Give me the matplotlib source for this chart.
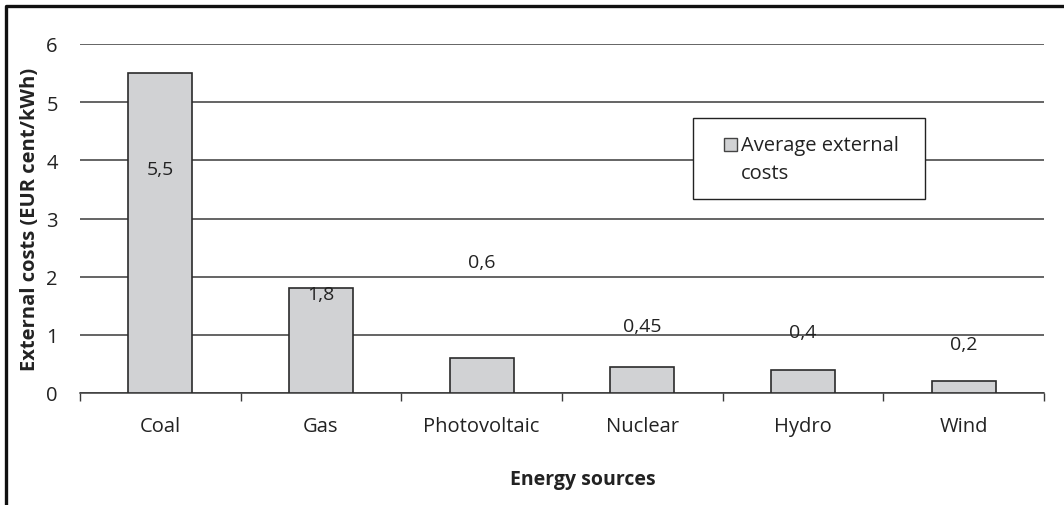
import numpy as np
import matplotlib
matplotlib.use("Agg")
import matplotlib.pyplot as plt
from matplotlib.lines import Line2D
from matplotlib.patches import Rectangle

plt.rcParams["font.family"] = ["Open Sans", "DejaVu Sans"]

sources = ["Coal", "Gas", "Photovoltaic", "Nuclear", "Hydro", "Wind"]
external_costs = [5.5, 1.8, 0.6, 0.45, 0.4, 0.2]
value_labels = ["5,5", "1,8", "0,6", "0,45", "0,4", "0,2"]
series_name = "Average external\ncosts"

# where the data labels sit (the original chart has them floating oddly)
label_heights = [3.85, 1.70, 2.25, 1.15, 1.05, 0.84]

W, H = 1064, 506
bar_color = "#d1d2d4"
ink = "#222222"


def px(x, y):
    # pixel position (from top left) -> figure fraction
    return x / W, 1 - y / H


fig = plt.figure(figsize=(W / 100, H / 100), dpi=100)
ax = fig.add_axes([80 / W, 1 - 394 / H, 964 / W, 349 / H])

x = np.arange(len(sources))
ax.bar(x, external_costs, width=0.4, color=bar_color, edgecolor="#2b2b2b",
       linewidth=1.2, zorder=3)

for xi, txt, ly in zip(x, value_labels, label_heights):
    ax.text(xi, ly, txt, ha="center", va="center", fontsize=14,
            color=ink, zorder=4)

ax.set_xlim(-0.5, len(sources) - 0.5)
ax.set_ylim(0, 6)
ax.set_yticks(range(0, 7))
ax.yaxis.grid(True, color="#3a3a3a", linewidth=1.1)
ax.set_axisbelow(True)

ax.set_xticks(np.arange(-0.5, len(sources), 1))
ax.set_xticklabels([])
ax.set_xticks(x, minor=True)
ax.set_xticklabels(sources, minor=True)
ax.tick_params(axis="x", which="major", length=6, width=1, color="#3a3a3a")
ax.tick_params(axis="x", which="minor", length=0, pad=16.5, labelsize=14.5,
               labelcolor=ink)
ax.tick_params(axis="y", length=0, pad=16, labelsize=14.5, labelcolor=ink)

for side in ["top", "right", "left"]:
    ax.spines[side].set_visible(False)
ax.spines["bottom"].set_color("#3a3a3a")
ax.spines["bottom"].set_linewidth(1.1)

ax.set_xlabel("Energy sources", fontsize=14, fontweight="bold", color=ink)
ax.xaxis.set_label_coords(0.522, -0.217)
ax.set_ylabel("External costs (EUR cent/kWh)", fontsize=14.5, fontweight="bold",
              color=ink)
ax.yaxis.set_label_coords(-0.041, 0.50)

# legend box, drawn by hand so the swatch lines up with the first text line
x0, y0 = px(693, 200)
x1, y1 = px(925, 119)
fig.add_artist(Rectangle((x0, y0), x1 - x0, y1 - y0, transform=fig.transFigure,
                         facecolor="white", edgecolor=ink, linewidth=1.0, zorder=5))
sx, sy = px(724, 152)
fig.add_artist(Rectangle((sx, sy), 13 / W, 13 / H, transform=fig.transFigure,
                         facecolor=bar_color, edgecolor="#444444", linewidth=1.0,
                         zorder=6))
tx, ty = px(741, 160)
fig.text(tx, ty, series_name, ha="left", va="center", fontsize=14.5, color=ink,
         linespacing=1.5, zorder=6)

# outer frame (left and top only, like the cropped original)
fig.add_artist(Line2D([6 / W, 6 / W, 1.0], [0.0, 1 - 7 / H, 1 - 7 / H],
                      transform=fig.transFigure, color="#111111", linewidth=2.4))

fig.savefig("out.png", dpi=100, facecolor="white")
